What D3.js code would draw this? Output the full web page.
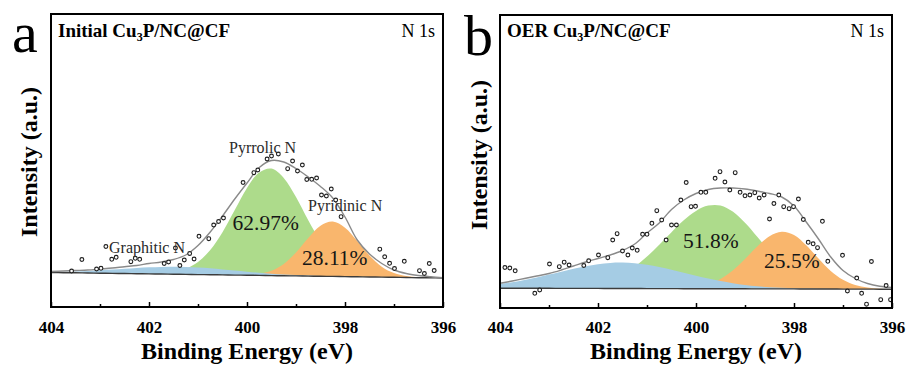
<!DOCTYPE html>
<html><head><meta charset="utf-8">
<script src="https://cdn.jsdelivr.net/npm/d3@7"></script>
<style>body{margin:0;background:#fff} svg{display:block}</style>
</head><body>
<svg id="c" width="907" height="365"></svg>
<script>
// ---------- DATA ----------
const energy = [404,403.75,403.5,403.25,403,402.75,402.5,402.25,402,401.75,401.5,401.25,401,400.75,400.5,400.25,400,399.75,399.5,399.25,399,398.75,398.5,398.25,398,397.75,397.5,397.25,397,396.75,396.5,396.25,396];
const majorTicks = [404,402,400,398,396];
const minorTicks = [403,401,399,397];

// Panel a (Initial)
const bgA     = [345,343,342,340,338,336,335,333,331,330,328,326,324,323,321,319,318,316,314,312,311,309,307,306,304,302,300,299,297,295,293,292,290];
const blueA   = [351,353,356,360,367,374,382,390,397,401,403,401,395,387,376,365,353,343,333,325,319,314,310,307,305,302,300,299,297,295,293,292,290];
const greenA  = [345,343,342,340,338,336,335,333,333,337,350,382,450,570,748,970,1190,1346,1384,1291,1099,867,656,497,396,341,315,304,298,295,293,292,290];
const orangeA = [345,343,342,340,338,336,335,333,331,330,328,326,324,323,321,319,322,333,363,431,546,690,813,855,793,659,514,403,339,309,297,292,290];
const envA    = [355,360,365,370,380,390,403,415,435,450,475,520,615,750,910,1080,1240,1395,1465,1450,1385,1300,1205,1090,900,670,530,435,370,335,315,302,292];
const ptsAE = [403.58,403.37,403.07,402.98,402.88,402.76,402.67,402.37,402.28,402.19,401.69,401.60,401.46,401.37,401.28,401.17,401.08,400.98,400.78,400.68,400.58,400.48,400.08,399.86,399.78,399.59,399.50,399.36,399.17,399.07,398.97,398.87,398.78,398.68,398.58,398.48,398.38,398.28,398.19,398.08,397.29,397.19,397.09,396.99,396.79,396.48,396.38,396.28,396.18];
const ptsAI = [360,475,380,387,605,477,497,453,487,477,435,450,590,415,470,535,480,707,683,820,855,890,1245,1343,1370,1480,1510,1530,1383,1460,1360,1420,1275,1277,1290,1120,1110,1180,1070,903,578,502,437,385,457,363,335,435,365];

// Panel b (OER)
const bgB     = [198,198,197,197,197,196,196,196,196,195,195,195,194,194,194,193,193,193,192,192,192,191,191,191,191,190,190,190,189,189,189,188,188];
const blueB   = [241,258,280,305,334,363,392,418,438,451,454,448,433,410,383,353,323,294,269,248,231,218,208,202,197,194,192,191,190,189,189,188,188];
const greenB  = [198,198,197,198,200,203,209,222,244,280,336,413,514,632,758,877,971,1024,1025,964,852,712,570,445,348,280,237,213,200,193,190,189,188];
const orangeB = [198,198,197,197,197,196,196,196,196,195,195,195,194,194,196,200,212,238,290,374,489,614,718,763,731,628,494,371,282,230,204,193,189];
const envB    = [247,270,295,320,345,380,420,460,495,530,575,640,750,850,985,1080,1145,1185,1200,1200,1190,1170,1145,1110,1020,860,690,510,375,295,245,217,205];
const ptsBE = [403.90,403.80,403.69,403.29,403.19,402.99,402.79,402.69,402.59,402.29,402.19,401.99,401.80,401.70,401.61,401.50,401.39,401.30,401.20,401.09,401.00,400.90,400.80,400.70,400.61,400.50,400.40,400.31,400.20,400.10,400.01,399.90,399.80,399.61,399.51,399.41,399.31,399.20,399.10,399.00,398.90,398.80,398.71,398.61,398.50,398.41,398.31,398.21,398.10,398.01,397.91,397.81,397.71,397.61,397.52,397.42,397.31,397.01,396.91,396.72,396.62,396.52,396.42,396.23,396.12,396.03];
const ptsBI = [405,400,372,147,180,440,413,458,430,425,472,530,503,680,743,570,530,600,577,737,737,847,973,880,680,830,830,1080,1255,1013,1017,1157,1157,1297,1363,1260,1180,1353,1157,1122,1130,1153,1100,1130,890,1045,1130,1013,993,1013,1090,885,657,642,603,867,467,527,170,300,147,38,465,83,225,83];

const peakNamesA = ["Graphitic N","Pyrrolic N","Pyridinic N"];
const percentA = ["62.97%","28.11%"];
const percentB = ["51.8%","25.5%"];

// ---------- DRAW ----------
const svg = d3.select('#c');
const serif = "'Liberation Serif','Times New Roman',Times,serif";
const colors = {green:'#addb8b', orange:'#f9b66d', blue:'#a5cce4'};

function panel(cfg){
  const x = d3.scaleLinear().domain([404,396]).range([cfg.x0,cfg.x1]);
  const y = d3.scaleLinear().domain([0,2930]).range([cfg.y1,cfg.y0]);
  const g = svg.append('g');
  const clipId = 'clip'+cfg.id;
  svg.append('clipPath').attr('id',clipId).append('rect')
    .attr('x',cfg.x0).attr('y',cfg.y0).attr('width',cfg.x1-cfg.x0).attr('height',cfg.y1-cfg.y0);
  const plot = g.append('g').attr('clip-path',`url(#${clipId})`);
  const curve = d3.curveCatmullRom.alpha(0.5);
  const area = d3.area().x((d,i)=>x(energy[i])).y0((d,i)=>y(cfg.bg[i])).y1(d=>y(d)).curve(curve);
  const line = d3.line().x((d,i)=>x(energy[i])).y(d=>y(d)).curve(curve);
  plot.append('path').attr('d',area(cfg.green)).attr('fill',colors.green);
  plot.append('path').attr('d',area(cfg.orange)).attr('fill',colors.orange);
  plot.append('path').attr('d',area(cfg.blue)).attr('fill',colors.blue);
  plot.append('path').attr('d',line(cfg.bg)).attr('fill','none').attr('stroke','#3c3c3c').attr('stroke-width',1.4);
  plot.append('path').attr('d',line(cfg.env)).attr('fill','none').attr('stroke','#8a8a8a').attr('stroke-width',1.4);
  plot.append('g').selectAll('circle').data(cfg.pe).join('circle')
    .attr('cx',d=>x(d)).attr('cy',(d,i)=>y(cfg.pi[i])).attr('r',1.9)
    .attr('fill','#fff').attr('stroke','#1e1e1e').attr('stroke-width',1.1);

  // axes
  const maj = d3.axisBottom(x).tickValues(majorTicks).tickSize(-5).tickPadding(cfg.pad).tickFormat(d3.format('d'));
  const mnr = d3.axisBottom(x).tickValues(minorTicks).tickSize(-3).tickFormat('');
  const ga = g.append('g').attr('transform',`translate(0,${cfg.y1})`).call(maj);
  const gm = g.append('g').attr('transform',`translate(0,${cfg.y1})`).call(mnr);
  [ga,gm].forEach(s=>{ s.select('.domain').remove(); s.selectAll('line').attr('stroke','#000').attr('stroke-width',1.5); });
  ga.selectAll('text').attr('font-family',serif).attr('font-weight','bold').attr('font-size',17).attr('fill','#000');

  // frame
  g.append('rect').attr('x',cfg.x0).attr('y',cfg.y0).attr('width',cfg.x1-cfg.x0).attr('height',cfg.y1-cfg.y0)
    .attr('fill','none').attr('stroke','#000').attr('stroke-width',2);

  // titles
  g.append('text').attr('x',(cfg.x0+cfg.x1)/2).attr('y',cfg.xTitleY).attr('text-anchor','middle')
    .attr('font-family',serif).attr('font-weight','bold').attr('font-size',24).text('Binding Energy (eV)');
  g.append('text').attr('transform',`translate(${cfg.yTitleX},${cfg.yTitleY}) rotate(-90)`).attr('text-anchor','middle')
    .attr('font-family',serif).attr('font-weight','bold').attr('font-size',24).text('Intensity (a.u.)');
  g.append('text').attr('x',cfg.letterX).attr('y',cfg.letterY).attr('font-family',serif).attr('font-size',58).text(cfg.letter);
  const t = g.append('text').attr('x',cfg.x0+7).attr('y',36.5).attr('font-family',serif).attr('font-weight','bold').attr('font-size',19);
  t.append('tspan').text(cfg.name+' Cu');
  t.append('tspan').attr('font-size',12).attr('dy',4).text('3');
  t.append('tspan').attr('dy',-4).text('P/NC@CF');
  g.append('text').attr('x',cfg.x1-8).attr('y',36.5).attr('text-anchor','end').attr('font-family',serif).attr('font-size',18).text('N 1s');
  return {g,x,y};
}

const A = panel({id:'a', x0:51, x1:443, y0:14, y1:307, pad:14, bg:bgA, blue:blueA, green:greenA, orange:orangeA, env:envA, pe:ptsAE, pi:ptsAI,
  xTitleY:359, yTitleX:37, yTitleY:162, letter:'a', letterX:12, letterY:52, name:'Initial'});
const B = panel({id:'b', x0:500, x1:892, y0:15, y1:308, pad:13, bg:bgB, blue:blueB, green:greenB, orange:orangeB, env:envB, pe:ptsBE, pi:ptsBI,
  xTitleY:359, yTitleX:487, yTitleY:155, letter:'b', letterX:464, letterY:55, name:'OER'});

// annotations panel a
const ann = [[109,252.5],[229,153.3],[308,210.5]];
peakNamesA.forEach((s,i)=>A.g.append('text').attr('x',ann[i][0]).attr('y',ann[i][1]).attr('font-family',serif).attr('font-size',16).attr('fill','#2a2a2a').text(s));
const pa = [[232.5,230],[302,265]];
percentA.forEach((s,i)=>A.g.append('text').attr('x',pa[i][0]).attr('y',pa[i][1]).attr('font-family',serif).attr('font-size',21.5).attr('fill','#161616').text(s));
const pb = [[683,248.3],[764,268.3]];
percentB.forEach((s,i)=>B.g.append('text').attr('x',pb[i][0]).attr('y',pb[i][1]).attr('font-family',serif).attr('font-size',21.5).attr('fill','#161616').text(s));
</script>
</body></html>
